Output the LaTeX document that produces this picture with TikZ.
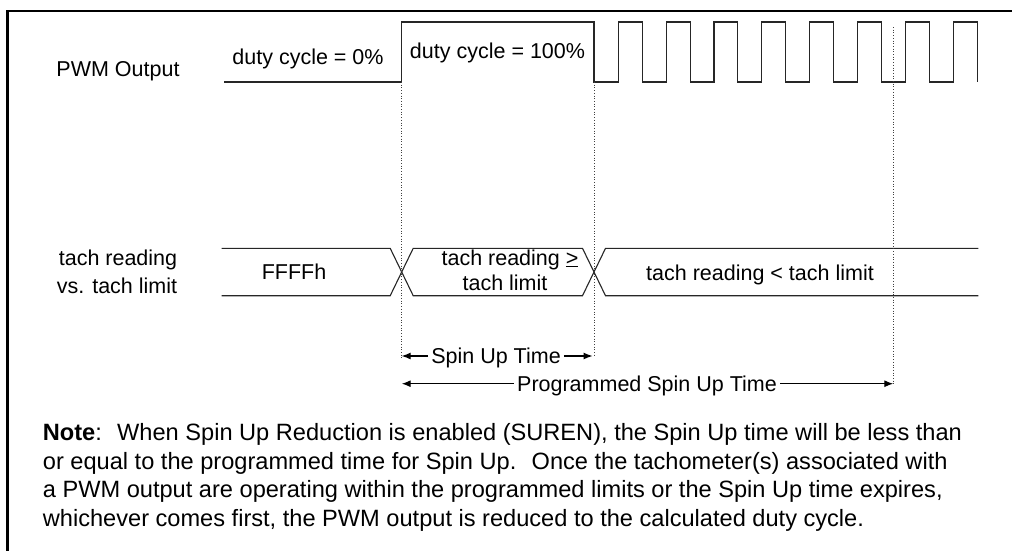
\documentclass[tikz,border=0pt]{standalone}
\usepackage{fontspec}
\setmainfont{Liberation Sans}
\usetikzlibrary{arrows.meta}
\begin{document}
\begin{tikzpicture}[x=1pt,y=-1pt,
  wave/.style={line width=1.1pt, black!85, line join=miter},
  guide/.style={line width=0.9pt, black!75, dash pattern=on 0.9pt off 1.8pt},
  dimarrow/.style={line width=1.1pt, -{Latex[length=9pt,width=7pt]}},
  lbl/.style={font=\fontsize{21.5}{28}\selectfont, inner sep=0pt, anchor=base},
  notelbl/.style={font=\fontsize{23.6}{28}\selectfont, inner sep=0pt, anchor=base west},
  framel/.style={line width=2.5pt, line join=miter}]
\useasboundingbox (0,0) rectangle (1012,550);

% frame (only top and left edges visible)
\draw[framel] (7.5,560) -- (7.5,11) -- (1020,11);

% signal names
\node[lbl] (pwm) at (118,76) {PWM Output};
\node[lbl] (tachA) at (118,265) {tach reading};
\node[lbl] (tachB) at (117,293) {vs. tach limit};

% PWM waveform
\draw[wave] (224,82) -| (401.7,22) -| (594,82)
  -| (618.3,22) -| (642.2,82)
  -| (666.2,22) -| (690.1,82)
  -| (714.0,22) -| (737.9,82)
  -| (761.9,22) -| (785.8,82)
  -| (809.7,22) -| (833.6,82)
  -| (857.6,22) -| (881.5,82)
  -| (905.5,22) -| (929.4,82)
  -| (953.3,22) -| (977.2,82);

\node[lbl] (dc0) at (308,64) {duty cycle = 0\%};
\node[lbl] (dc100) at (497.5,58) {duty cycle = 100\%};

% tach bus
\draw[wave] (221.7,248.3) -- (390.2,248.3) -- (413.2,295.7) -- (582.5,295.7) -- (605.5,248.3) -- (978.3,248.3);
\draw[wave] (221.7,295.7) -- (390.2,295.7) -- (413.2,248.3) -- (582.5,248.3) -- (605.5,295.7) -- (978.3,295.7);

\node[lbl] (ffff) at (294,279) {FFFFh};
\node[lbl] (geA) at (510,265) {tach reading \underline{>}};
\node[lbl] (geB) at (505,290) {tach limit};
\node[lbl] (lt) at (760,280) {tach reading < tach limit};

% guide lines
\coordinate (g1t) at (401.7,82);
\coordinate (g1b) at (401.7,360);
\coordinate (g2t) at (594,82);
\coordinate (g2b) at (594,356);
\coordinate (g3t) at (893.3,27);
\coordinate (g3b) at (893.3,383.7);
\draw[guide] (g1t) -- (g1b);
\draw[guide] (g2t) -- (g2b);
\draw[guide] (g3t) -- (g3b);

% spin up time
\coordinate (su1) at (401.7,356);
\coordinate (su2) at (592.5,356);
\node[lbl, inner xsep=3pt] (sut) at (496,363.7) {Spin Up Time};
\draw[dimarrow] (sut.west |- su1) -- (su1);
\draw[dimarrow] (sut.east |- su2) -- (su2);

% programmed spin up time
\coordinate (ps1) at (401.7,383.7);
\coordinate (ps2) at (893.3,383.7);
\node[lbl, inner xsep=3pt] (psut) at (647,391.4) {Programmed Spin Up Time};
\draw[dimarrow] (psut.west |- ps1) -- (ps1);
\draw[dimarrow] (psut.east |- ps2) -- (ps2);

% note
\node[notelbl] (n1) at (42.7,440.7) {\textbf{Note}:~ When Spin Up Reduction is enabled (SUREN), the Spin Up time will be less than};
\node[notelbl] (n2) at (42.7,469.2) {or equal to the programmed time for Spin Up.~ Once the tachometer(s) associated with};
\node[notelbl] (n3) at (42.7,497.7) {a PWM output are operating within the programmed limits or the Spin Up time expires,};
\node[notelbl] (n4) at (42.7,526.2) {whichever comes first, the PWM output is reduced to the calculated duty cycle.};
\end{tikzpicture}
\end{document}
